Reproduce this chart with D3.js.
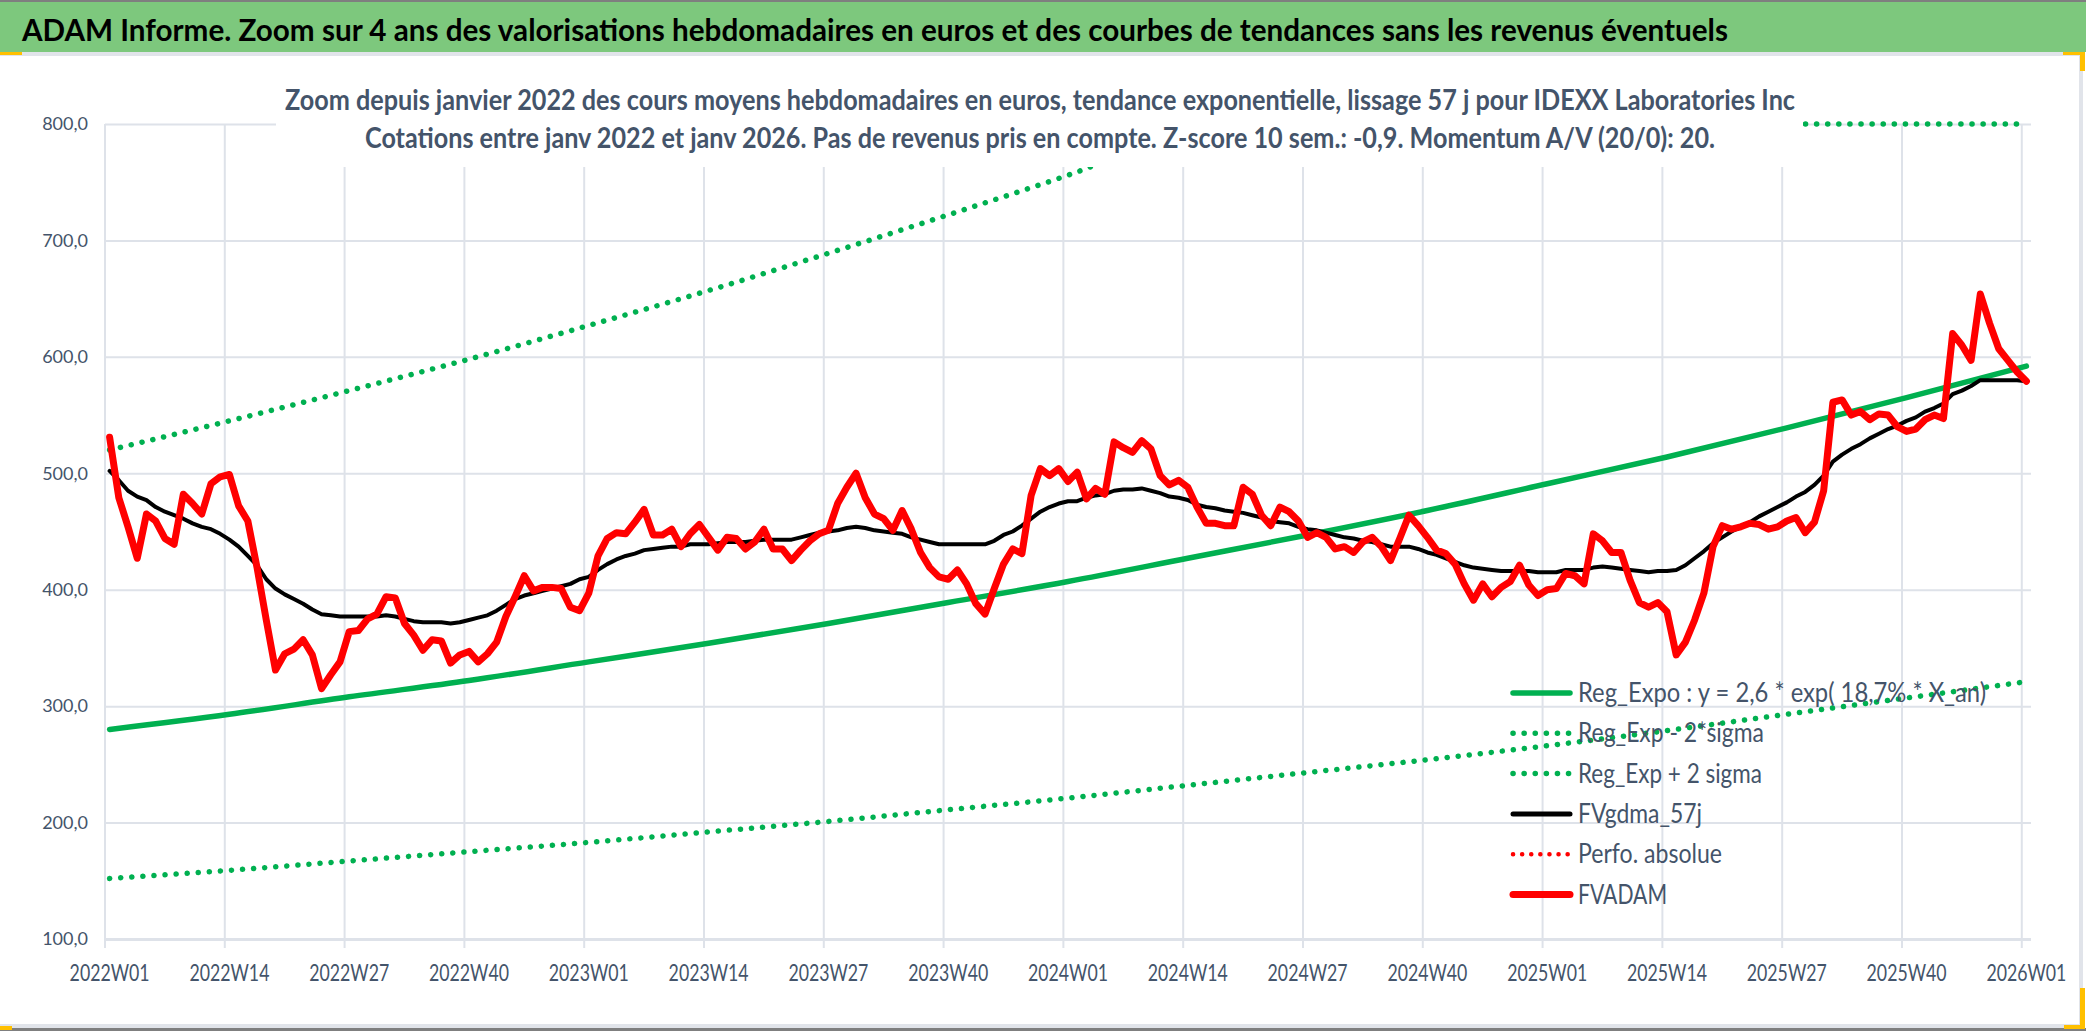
<!DOCTYPE html>
<html>
<head>
<meta charset="utf-8">
<script src="https://cdn.jsdelivr.net/npm/d3@7"></script>
<style>
  body { margin: 0; background: #fff; }
  svg { display: block; font-family: "Lato", "Open Sans", sans-serif; }
</style>
</head>
<body>
<div id="chart"></div>
<script>
// Textes
const titleText = "ADAM Informe. Zoom sur 4 ans des valorisations hebdomadaires en euros et des courbes de tendances sans les revenus éventuels";
const subtitleLines = [
    "Zoom depuis janvier 2022 des cours moyens hebdomadaires en euros, tendance exponentielle, lissage 57 j pour IDEXX Laboratories Inc",
    "Cotations entre janv 2022 et janv 2026. Pas de revenus pris en compte. Z-score 10 sem.: -0,9. Momentum A/V (20/0): 20."
];

// Axes
const years = [2022, 2023, 2024, 2025];
const lastWeek = "2026W01";
const tickLabels = ["2022W01", "2022W14", "2022W27", "2022W40", "2023W01", "2023W14", "2023W27", "2023W40",
    "2024W01", "2024W14", "2024W27", "2024W40", "2025W01", "2025W14", "2025W27", "2025W40", "2026W01"];
const yTicks = [100, 200, 300, 400, 500, 600, 700, 800];

// FVADAM (cours hebdo, euros)
const fvadam = [
    531, 479, 454, 427, 465, 459, 444, 439, 482, 474, 465, 491, 497, 499, 472, 459, 419, 374, 331, 345,
    349, 357, 344, 315, 327, 338, 364, 365, 375, 379, 394, 393, 371, 361, 348, 357, 356, 337, 344, 347,
    338, 345, 355, 377, 394, 412, 399, 402, 402, 401, 385, 382, 397,
    429, 444, 449, 448, 458, 469, 447, 447, 452, 437, 448, 456, 445, 434, 445, 444, 435, 441, 452, 435,
    435, 425, 434, 442, 448, 451, 474, 488, 500, 479, 465, 461, 451, 468, 452, 432, 419, 411, 409, 417,
    405, 388, 379, 401, 422, 435, 431, 481, 504, 498, 504, 493,
    501, 478, 487, 482, 527, 522, 518, 528, 521, 498, 490, 494, 488, 471, 457, 457, 455, 455, 488, 482,
    464, 455, 471, 467, 459, 445, 449, 445, 435, 437, 432, 441, 445, 437, 425, 444, 464, 455, 445, 434,
    431, 422, 405, 391, 405, 394, 402, 407, 421, 404, 395, 400,
    401, 414, 412, 405, 448, 442, 432, 432, 408, 389, 385, 389, 381, 344, 355, 374, 397, 437, 455, 452,
    454, 457, 456, 452, 454, 459, 462, 449, 458, 485, 561, 563, 550, 553, 546, 551, 550, 540, 536, 538,
    546, 550, 547, 620, 610, 597, 654, 629, 607, 597, 587, 579
];

// FVgdma_57j (moyenne lissée)
const fvgdma = [
    502, 494, 485, 480, 477, 471, 467, 464, 461, 457, 454, 452, 448, 443, 437, 429, 421, 409, 401, 396,
    392, 388, 383, 379, 378, 377, 377, 377, 377, 377, 378, 377, 375, 373, 372, 372, 372, 371, 372, 374,
    376, 378, 382, 387, 392, 395, 397, 399, 401, 403, 405, 409, 411,
    417, 422, 426, 429, 431, 434, 435, 436, 437, 437, 439, 439, 439, 440, 441, 441, 441, 442, 443, 443,
    443, 443, 445, 447, 449, 450, 451, 453, 454, 453, 451, 450, 449, 448, 445, 443, 441, 439, 439, 439,
    439, 439, 439, 442, 447, 450, 455, 461, 467, 471, 474, 476,
    476, 479, 481, 482, 485, 486, 486, 487, 485, 483, 480, 479, 477, 473, 471, 470, 468, 467, 466, 464,
    462, 459, 458, 457, 454, 452, 451, 449, 447, 445, 444, 442, 441, 439, 437, 437, 437, 435, 432, 430,
    427, 424, 421, 419, 418, 417, 416, 416, 416, 416, 415, 415,
    415, 417, 417, 417, 419, 420, 419, 418, 417, 416, 415, 416, 416, 417, 421, 427, 433, 440, 445, 450,
    454, 458, 463, 467, 471, 475, 480, 484, 490, 498, 510, 516, 521, 525, 530, 534, 538, 541, 545, 548,
    553, 556, 560, 568, 571, 575, 580, 580, 580, 580, 580, 579
];

// Courbes de tendance, lues aux semaines des graduations
const regExpo = [280, 293, 308, 322, 338, 354, 371, 389, 407, 427, 447, 468, 491, 514, 539, 565, 592];
const regExpLow = [152, 159, 167, 175, 183, 192, 201, 211, 221, 232, 243, 254, 266, 279, 293, 307, 321];
const regExpHigh = [520, 545, 571, 598, 627, 657, 689, 722, 756, 792, 830, 870, 911, 955, 1001, 1049, 1099];

const legendLabels = ["Reg_Expo : y = 2,6 * exp( 18,7% * X_an)", "Reg_Exp - 2*sigma", "Reg_Exp + 2 sigma",
    "FVgdma_57j", "Perfo. absolue", "FVADAM"];

const W = 2086, H = 1031;
const plot = { left: 105, right: 2031, top: 124, bottom: 939 };
const textColor = "#44546A";
const gridColor = "#DEE2E9";
const frameColor = "#E1E4EA";
const green = "#00B050", red = "#FF0000", yellow = "#FFC000";

// semaines de l'axe des catégories
const weeks = [];
years.forEach(yr => {
    for (let w = 1; w <= 52; w++) weeks.push(yr + "W" + String(w).padStart(2, "0"));
});
weeks.push(lastWeek);

const svg = d3.select("#chart").append("svg")
    .attr("width", W)
    .attr("height", H);

const x = d3.scaleBand().domain(weeks).range([plot.left, plot.right]);
const xc = i => x(weeks[i]) + x.bandwidth() / 2;
const y = d3.scaleLinear().domain([100, 800]).range([plot.bottom, plot.top]);

// cadre et bandeau de titre
const rect = (rx, ry, rw, rh, fill) => svg.append("rect")
    .attr("x", rx).attr("y", ry).attr("width", rw).attr("height", rh).attr("fill", fill);
rect(0, 0, W, H, "#fff");
rect(0, 0, W, 52, "#7DC87D");
rect(0, 0, W, 2, "#7F7F7F");
rect(0, 52, 2082, 4, frameColor);
rect(2079, 52, 4, 976, frameColor);
rect(0, 1024, 2083, 4, frameColor);
rect(0, 1028, W, 3, "#7F7F7F");
// marques jaunes aux coins
rect(2063, 52, 20, 3, yellow);
rect(2080, 52, 5, 19, yellow);
rect(2080, 988, 5, 40, yellow);
rect(2064, 1025, 21, 4, yellow);
rect(0, 52, 22, 3, yellow);
rect(0, 1026, 12, 4, yellow);

svg.append("text")
    .attr("x", 22).attr("y", 41)
    .attr("font-size", 30).attr("font-weight", "bold").attr("fill", "#000")
    .attr("textLength", 1706).attr("lengthAdjust", "spacingAndGlyphs")
    .text(titleText);

// grille horizontale + axe Y
const frLocale = d3.formatLocale({ decimal: ",", thousands: " ", grouping: [3], currency: ["", " €"] });
const yAxis = svg.append("g")
    .attr("transform", `translate(${plot.left},0)`)
    .call(d3.axisLeft(y).tickValues(yTicks).tickSize(-(plot.right - plot.left)).tickPadding(17)
        .tickFormat(frLocale.format(".1f")));
yAxis.select(".domain").remove();
yAxis.selectAll("line").attr("stroke", gridColor).attr("stroke-width", d => d === 100 ? 3 : 2);
yAxis.selectAll("text").attr("font-size", 18).attr("fill", textColor).attr("font-family", "Lato, sans-serif");

// grille verticale (limites de catégories)
svg.append("g").selectAll("line")
    .data(tickLabels)
    .enter().append("line")
    .attr("x1", d => x(d)).attr("x2", d => x(d))
    .attr("y1", plot.top).attr("y2", plot.bottom + 9)
    .attr("stroke", gridColor).attr("stroke-width", 2);

// libellés axe X
const xAxis = svg.append("g")
    .attr("transform", `translate(0,${plot.bottom})`)
    .call(d3.axisBottom(x).tickValues(tickLabels).tickSize(0).tickPadding(0));
xAxis.select(".domain").remove();
xAxis.selectAll("text")
    .attr("y", 42).attr("dy", null)
    .attr("font-size", 24).attr("fill", textColor).attr("font-family", "Lato, sans-serif")
    .attr("textLength", 80).attr("lengthAdjust", "spacingAndGlyphs");

// séries
const tickIdx = tickLabels.map(t => weeks.indexOf(t));
const trendLine = d3.line()
    .x((d, i) => xc(tickIdx[i]))
    .y(d => y(Math.min(d, 800)))
    .curve(d3.curveMonotoneX);
const weekLine = d3.line()
    .x((d, i) => xc(i))
    .y(d => y(d));

const dotted = sel => sel.attr("stroke-dasharray", "0.1 11").attr("stroke-linecap", "round");

svg.append("path").datum(regExpLow).attr("d", trendLine)
    .attr("fill", "none").attr("stroke", green).attr("stroke-width", 5.5).call(dotted);
svg.append("path").datum(regExpHigh).attr("d", trendLine)
    .attr("fill", "none").attr("stroke", green).attr("stroke-width", 5.5).call(dotted);
svg.append("path").datum(regExpo).attr("d", trendLine)
    .attr("fill", "none").attr("stroke", green).attr("stroke-width", 5.5).attr("stroke-linecap", "round");
svg.append("path").datum(fvgdma).attr("d", weekLine)
    .attr("fill", "none").attr("stroke", "#000").attr("stroke-width", 4)
    .attr("stroke-linejoin", "round").attr("stroke-linecap", "round");
svg.append("path").datum(fvadam).attr("d", weekLine)
    .attr("fill", "none").attr("stroke", red).attr("stroke-width", 7)
    .attr("stroke-linejoin", "round").attr("stroke-linecap", "round");

// titre du graphique (fond blanc au-dessus du tracé)
rect(276, 62, 1527, 105, "#fff");
svg.selectAll("text.subtitle")
    .data(subtitleLines)
    .enter().append("text")
    .attr("class", "subtitle")
    .attr("x", 1040).attr("y", (d, i) => i === 0 ? 110 : 148)
    .attr("text-anchor", "middle")
    .attr("font-size", 29).attr("font-weight", "bold").attr("fill", textColor)
    .attr("textLength", (d, i) => i === 0 ? 1510 : 1350).attr("lengthAdjust", "spacingAndGlyphs")
    .text(d => d);

// légende
const legendStyles = [
    { color: green, width: 5.5, dot: false },
    { color: green, width: 5.5, dot: true },
    { color: green, width: 5.5, dot: true },
    { color: "#000", width: 5, dot: false },
    { color: red, width: 4.5, dot: true },
    { color: red, width: 7, dot: false }
];
const legendWidths = [408, 186, 184, 124, 144, 89];
const legend = svg.append("g").selectAll("g")
    .data(legendLabels)
    .enter().append("g")
    .attr("transform", (d, i) => `translate(1511,${693 + i * 40.3})`);
legend.append("line")
    .attr("x1", 2).attr("x2", 59)
    .attr("stroke", (d, i) => legendStyles[i].color)
    .attr("stroke-width", (d, i) => legendStyles[i].width)
    .attr("stroke-linecap", "round")
    .attr("stroke-dasharray", (d, i) => legendStyles[i].dot ? (legendStyles[i].color === red ? "0.1 9" : "0.1 11") : null);
legend.append("text")
    .attr("x", 67).attr("y", 9)
    .attr("font-size", 26).attr("fill", textColor)
    .attr("textLength", (d, i) => legendWidths[i]).attr("lengthAdjust", "spacingAndGlyphs")
    .text(d => d);
</script>
</body>
</html>
